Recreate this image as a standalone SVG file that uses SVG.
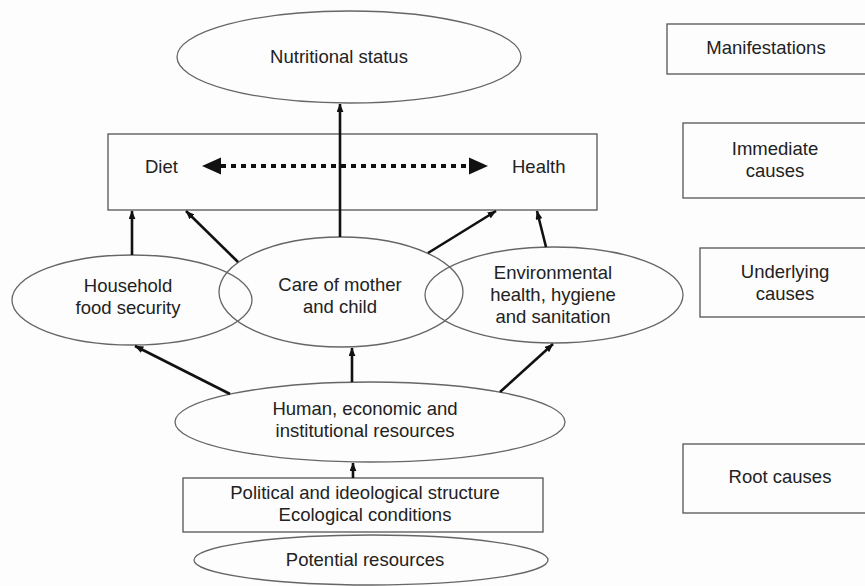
<svg xmlns="http://www.w3.org/2000/svg" width="865" height="586" viewBox="0 0 865 586">
<defs>
<style>
text{font-family:"Liberation Sans",Arial,sans-serif;font-size:18.5px;fill:#222;}
.c{text-anchor:middle;}
.ell{fill:none;stroke:#666;stroke-width:1.3;}
.box{fill:none;stroke:#555;stroke-width:1.3;}
.arr{stroke:#111;stroke-width:2.6;fill:none;marker-end:url(#ah);}
</style>
<marker id="ah" viewBox="0 0 10 8" refX="9.5" refY="4" markerWidth="9" markerHeight="7" markerUnits="userSpaceOnUse" orient="auto">
<path d="M0,0 L10,4 L0,8 z" fill="#111"/>
</marker>
</defs>
<rect width="865" height="586" fill="#fdfdfd"/>

<g id="nutritional">
<ellipse class="ell" cx="349" cy="57" rx="172" ry="46"/>
<text class="c" x="339" y="63">Nutritional status</text>
</g>

<g id="diet-health">
<rect class="box" x="108" y="134" width="489" height="76"/>
<text x="145" y="173">Diet</text>
<text x="512" y="173">Health</text>
</g>

<g id="household">
<ellipse class="ell" cx="132" cy="300" rx="120" ry="45"/>
<text class="c" x="128" y="292">Household</text>
<text class="c" x="128" y="314">food security</text>
</g>

<g id="care">
<ellipse class="ell" cx="341" cy="292" rx="122" ry="55"/>
<text class="c" x="340" y="291">Care of mother</text>
<text class="c" x="340" y="313">and child</text>
</g>

<g id="environmental">
<ellipse class="ell" cx="554" cy="295" rx="129" ry="48"/>
<text class="c" x="553" y="279">Environmental</text>
<text class="c" x="553" y="301">health, hygiene</text>
<text class="c" x="553" y="323">and sanitation</text>
</g>

<g id="human">
<ellipse class="ell" cx="370" cy="422" rx="195" ry="40"/>
<text class="c" x="365" y="415">Human, economic and</text>
<text class="c" x="365" y="437">institutional resources</text>
</g>

<g id="political">
<rect class="box" x="183" y="478" width="360" height="54"/>
<text class="c" x="365" y="499">Political and ideological structure</text>
<text class="c" x="365" y="521">Ecological conditions</text>
</g>

<g id="potential">
<ellipse class="ell" cx="371" cy="560" rx="177" ry="25"/>
<text class="c" x="365" y="566">Potential resources</text>
</g>

<g id="manifestations">
<rect class="box" x="667" y="24" width="210" height="50"/>
<text class="c" x="766" y="54">Manifestations</text>
</g>

<g id="immediate">
<rect class="box" x="683" y="123" width="200" height="75"/>
<text class="c" x="775" y="155">Immediate</text>
<text class="c" x="775" y="177">causes</text>
</g>

<g id="underlying">
<rect class="box" x="700" y="248" width="200" height="69"/>
<text class="c" x="785" y="278">Underlying</text>
<text class="c" x="785" y="300">causes</text>
</g>

<g id="root">
<rect class="box" x="683" y="444" width="200" height="69"/>
<text class="c" x="780" y="483">Root causes</text>
</g>

<g id="connectors">
<line x1="221" y1="166" x2="469" y2="166" stroke="#111" stroke-width="4" stroke-dasharray="5 5"/>
<polygon points="202,166 221,157.5 221,174.5" fill="#111"/>
<polygon points="488,166 469,157.5 469,174.5" fill="#111"/>
<line class="arr" x1="340" y1="237" x2="340" y2="104"/>
<line class="arr" x1="132" y1="255" x2="132" y2="211"/>
<line class="arr" x1="238" y1="262" x2="186" y2="211"/>
<line class="arr" x1="428" y1="253" x2="496" y2="211"/>
<line class="arr" x1="546" y1="247" x2="537" y2="211"/>
<line class="arr" x1="230" y1="394" x2="135" y2="346"/>
<line class="arr" x1="352" y1="382" x2="352" y2="348"/>
<line class="arr" x1="500" y1="392" x2="553" y2="344"/>
<line class="arr" x1="353" y1="478" x2="353" y2="463"/>
</g>
</svg>
